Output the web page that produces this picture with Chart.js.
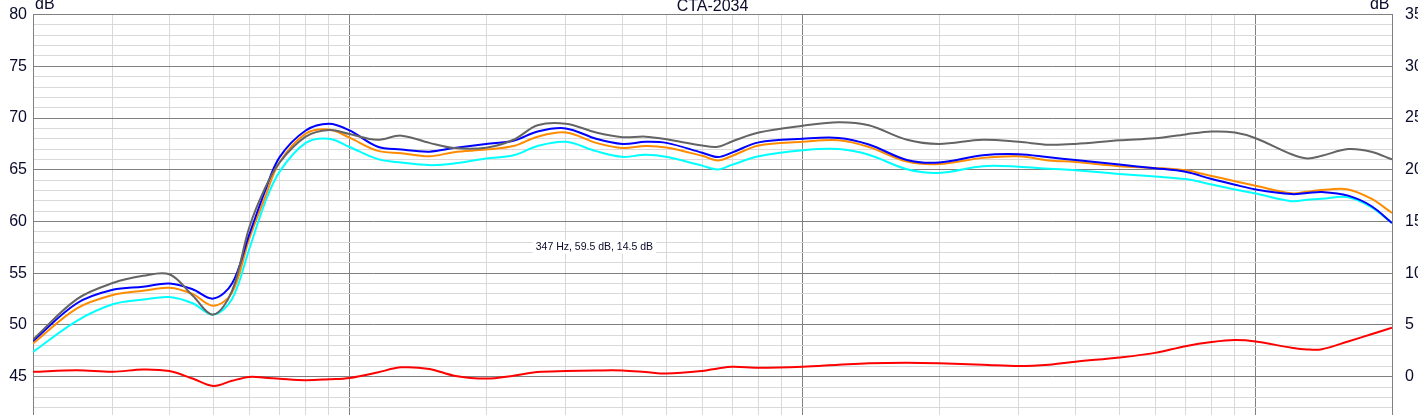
<!DOCTYPE html>
<html lang="en">
<head>
  <meta charset="UTF-8">
  <title>CTA-2034</title>
  <script src="https://cdn.jsdelivr.net/npm/chart.js"></script>
  <style>
    html, body { margin: 0; padding: 0; background: #fff; overflow: hidden; }
    #wrap { position: relative; width: 1418px; height: 415px; overflow: hidden; }
    #cta { position: absolute; left: 0; top: -8px; }
  </style>
</head>
<body>
  <div id="wrap"><canvas id="cta" width="1418" height="459"></canvas></div>

  <script>
    // Frequency points (Hz)
    const freqs = [20, 25, 30, 35, 40, 45, 50, 55, 60, 65, 70, 80, 90, 100, 115, 130, 150, 170, 200, 230, 260,
      300, 350, 400, 450, 500, 600, 650, 700, 800, 1000, 1200, 1400, 1700, 2000, 2500, 3000, 3500, 4000,
      5000, 6000, 7000, 8000, 9000, 10000, 12000, 13000, 14000, 16000, 18000, 20000];

    // Levels in dB (left axis)
    const onAxis = [48.6, 52.5, 54.05, 54.75, 54.9, 52.85, 51.0, 53.3, 59.4, 63.2, 65.7, 68.2, 68.85, 68.45, 67.9,
      68.3, 67.6, 67.1, 67.13, 67.9, 69.3, 69.45, 68.6, 68.15, 68.2, 67.95, 67.35, 67.23, 67.76, 68.6, 69.25,
      69.6, 69.3, 67.9, 67.5, 67.9, 67.7, 67.42, 67.5, 67.85, 68.05, 68.42, 68.7, 68.6, 68.05, 66.5, 66.1,
      66.35, 67.0, 66.75, 66.0];
    const listeningWindow = [48.45, 52.1, 53.4, 53.7, 54.0, 53.45, 52.55, 54.0, 58.7, 62.9, 66.2, 68.8, 69.45, 68.8,
      67.25, 66.95, 66.75, 67.1, 67.5, 67.8, 68.7, 69.0, 68.0, 67.5, 67.7, 67.6, 66.65, 66.23, 66.68, 67.65, 68.0,
      68.08, 67.45, 65.95, 65.7, 66.4, 66.5, 66.2, 65.95, 65.5, 65.15, 64.8, 64.1, 63.55, 63.1, 62.65, 62.75,
      62.85, 62.5, 61.5, 59.86];
    const earlyReflections = [48.2, 51.6, 52.9, 53.3, 53.6, 53.0, 51.85, 53.1, 58.3, 62.3, 65.7, 68.5, 68.9, 68.1,
      66.85, 66.6, 66.3, 66.7, 66.95, 67.3, 68.2, 68.6, 67.6, 67.1, 67.3, 67.15, 66.35, 65.9, 66.36, 67.35, 67.7,
      67.85, 67.2, 65.8, 65.55, 66.15, 66.3, 65.9, 65.75, 65.35, 65.18, 64.95, 64.4, 63.9, 63.45, 62.72, 62.88,
      63.05, 63.1, 62.2, 60.83];
    const soundPower = [47.4, 50.4, 52.0, 52.45, 52.7, 52.1, 51.0, 52.5, 57.3, 61.8, 64.8, 67.6, 68.0, 67.2, 66.05,
      65.7, 65.45, 65.6, 66.1, 66.4, 67.3, 67.7, 66.8, 66.25, 66.45, 66.25, 65.4, 65.03, 65.5, 66.3, 66.88, 67.0,
      66.45, 65.05, 64.7, 65.35, 65.3, 65.1, 64.95, 64.6, 64.35, 64.1, 63.57, 63.1, 62.7, 61.96, 62.1, 62.2,
      62.35, 61.4, 59.86];

    // Directivity index in dB (right axis)
    const directivity = [0.47, 0.62, 0.47, 0.7, 0.54, -0.18, -0.9, -0.4, -0.03, -0.1, -0.2, -0.34, -0.25, -0.12,
      0.4, 0.9, 0.75, 0.1, -0.18, 0.1, 0.45, 0.55, 0.6, 0.6, 0.45, 0.3, 0.55, 0.8, 0.95, 0.86, 0.96, 1.15, 1.3,
      1.35, 1.3, 1.15, 1.02, 1.15, 1.45, 1.85, 2.3, 2.95, 3.35, 3.54, 3.4, 2.8, 2.63, 2.65, 3.4, 4.1, 4.74];

    // Vertical grid lines (Hz)
    const freqGrid = [20, 30, 40, 50, 60, 70, 80, 90, 100, 200, 300, 400, 500, 600, 700, 800, 900,
      1000, 2000, 3000, 4000, 5000, 6000, 7000, 8000, 9000, 10000, 20000];

    const titleText = 'CTA-2034';
    const cursor = { freq: 347, db: 59.5, di: 14.5 };

    const majorGrid = '#808080';
    const minorGrid = '#d9d9d9';
    const textColor = '#0a0a2a';
    const tickFont = { family: '"Liberation Sans", Arial, sans-serif', size: 16 };

    const toPoints = values => values.map((v, i) => ({ x: freqs[i], y: v }));

    // Title, axis units and cursor readout
    const overlayText = {
      id: 'overlayText',
      afterDraw(chart) {
        const { ctx, chartArea, scales } = chart;
        const top = chartArea.top;
        ctx.save();
        ctx.font = '16px "Liberation Sans", Arial, sans-serif';
        ctx.fillStyle = textColor;
        ctx.textBaseline = 'alphabetic';
        ctx.textAlign = 'center';
        ctx.fillText(titleText, (chartArea.left + chartArea.right) / 2, top - 4);
        ctx.textAlign = 'left';
        ctx.fillText('dB', chartArea.left + 2, top - 5.5);
        ctx.textAlign = 'right';
        ctx.fillText('dB', chartArea.right - 2.5, top - 5.5);

        const cx = scales.x.getPixelForValue(cursor.freq);
        const cy = scales.y.getPixelForValue(cursor.db);
        const label = `${cursor.freq} Hz, ${cursor.db} dB, ${cursor.di} dB`;
        ctx.font = '10.5px "Liberation Sans", Arial, sans-serif';
        const w = ctx.measureText(label).width;
        ctx.fillStyle = '#ffffff';
        ctx.fillRect(cx - w / 2 - 3, cy + 14, w + 6, 13);
        ctx.fillStyle = textColor;
        ctx.textAlign = 'center';
        ctx.textBaseline = 'middle';
        ctx.fillText(label, cx, cy + 20.5);
        ctx.restore();
      }
    };

    const isDecade = v => Math.abs(Math.log10(v) - Math.round(Math.log10(v))) < 1e-9;

    new Chart(document.getElementById('cta'), {
      type: 'line',
      data: {
        datasets: [
          { label: 'On Axis', data: toPoints(onAxis), borderColor: '#646464', yAxisID: 'y' },
          { label: 'Listening Window', data: toPoints(listeningWindow), borderColor: '#0000ff', yAxisID: 'y' },
          { label: 'Early Reflections', data: toPoints(earlyReflections), borderColor: '#ff8c00', yAxisID: 'y' },
          { label: 'Sound Power', data: toPoints(soundPower), borderColor: '#00ffff', yAxisID: 'y' },
          { label: 'DI', data: toPoints(directivity), borderColor: '#ff0000', yAxisID: 'y2' }
        ]
      },
      options: {
        responsive: false,
        animation: false,
        devicePixelRatio: 1,
        layout: { padding: { top: 6, left: 0, right: 0, bottom: 0 } },
        elements: {
          point: { radius: 0 },
          line: { borderWidth: 2, fill: false, tension: 0.35 }
        },
        plugins: {
          legend: { display: false },
          tooltip: { enabled: false },
          title: { display: false }
        },
        scales: {
          x: {
            type: 'logarithmic',
            min: 20,
            max: 20000,
            afterBuildTicks: scale => { scale.ticks = freqGrid.map(v => ({ value: v })); },
            afterFit: scale => { scale.height = 0; },
            ticks: { display: false },
            grid: {
              drawTicks: false,
              color: c => isDecade(c.tick.value) ? majorGrid : minorGrid
            },
            border: { display: false }
          },
          y: {
            position: 'left',
            min: 40,
            max: 80,
            afterFit: scale => { scale.width = 33; },
            ticks: {
              stepSize: 1,
              autoSkip: false,
              padding: 6,
              font: tickFont,
              color: textColor,
              callback: v => v % 5 === 0 ? v : ''
            },
            grid: {
              drawTicks: false,
              color: c => c.tick.value % 5 === 0 ? majorGrid : minorGrid
            },
            border: { display: true, color: majorGrid }
          },
          y2: {
            position: 'right',
            min: -5,
            max: 35,
            afterFit: scale => { scale.width = 26; },
            ticks: {
              stepSize: 1,
              autoSkip: false,
              padding: 13,
              font: tickFont,
              color: textColor,
              callback: v => v % 5 === 0 ? v : ''
            },
            grid: { display: false, drawTicks: false },
            border: { display: true, color: majorGrid }
          }
        }
      },
      plugins: [overlayText]
    });
  </script>
</body>
</html>
